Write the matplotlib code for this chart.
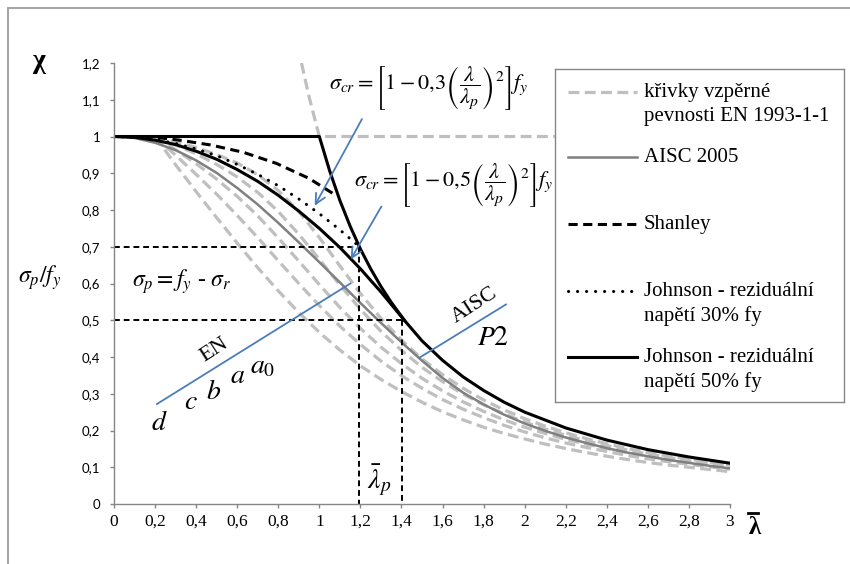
import matplotlib
matplotlib.use("Agg")
import matplotlib.pyplot as plt
from matplotlib.patches import Rectangle
from matplotlib.lines import Line2D

plt.rcParams['font.family'] = ['Liberation Serif', 'DejaVu Serif']
plt.rcParams['mathtext.fontset'] = 'stix'

# EN 1993-1-1 buckling curves (a0, a, b, c, d)
en_lam = [0.2, 0.3, 0.4, 0.5, 0.6, 0.7, 0.8, 0.9, 1.0, 1.1, 1.2, 1.3, 1.4, 1.5, 1.6,
          1.7, 1.8, 1.9, 2.0, 2.1, 2.2, 2.3, 2.4, 2.5, 2.6, 2.7, 2.8, 2.9, 3.0]
en_a0 = [1.000, 0.986, 0.970, 0.951, 0.928, 0.896, 0.853, 0.796, 0.725, 0.648, 0.573, 0.505,
         0.446, 0.395, 0.352, 0.315, 0.283, 0.256, 0.232, 0.212, 0.194, 0.178, 0.164, 0.151,
         0.140, 0.130, 0.122, 0.114, 0.106]
en_a = [1.000, 0.977, 0.953, 0.924, 0.890, 0.848, 0.796, 0.734, 0.666, 0.596, 0.530, 0.470,
        0.418, 0.372, 0.333, 0.299, 0.270, 0.245, 0.223, 0.204, 0.187, 0.172, 0.159, 0.147,
        0.136, 0.127, 0.118, 0.111, 0.104]
en_b = [1.000, 0.964, 0.926, 0.884, 0.837, 0.784, 0.724, 0.661, 0.597, 0.535, 0.478, 0.427,
        0.382, 0.342, 0.308, 0.278, 0.252, 0.229, 0.209, 0.192, 0.176, 0.163, 0.151, 0.140,
        0.130, 0.121, 0.113, 0.106, 0.099]
en_c = [1.000, 0.949, 0.897, 0.843, 0.785, 0.725, 0.662, 0.600, 0.540, 0.484, 0.434, 0.389,
        0.349, 0.315, 0.284, 0.258, 0.235, 0.214, 0.196, 0.180, 0.166, 0.154, 0.143, 0.132,
        0.123, 0.115, 0.108, 0.101, 0.095]
en_d = [1.000, 0.923, 0.850, 0.779, 0.710, 0.643, 0.580, 0.521, 0.467, 0.419, 0.376, 0.339,
        0.306, 0.277, 0.251, 0.229, 0.209, 0.192, 0.177, 0.163, 0.151, 0.140, 0.130, 0.121,
        0.113, 0.106, 0.100, 0.094, 0.088]

# Euler cut-off drawn with the EN curves (grey dashed)
en_euler_lam = [0.913, 0.95, 1.0, 3.0]
en_euler_chi = [1.2, 1.108, 1.0, 1.0]

# AISC 2005
aisc_lam = [0.0, 0.1, 0.2, 0.3, 0.4, 0.5, 0.6, 0.7, 0.8, 0.9, 1.0, 1.1, 1.2, 1.3, 1.4, 1.5,
            1.6, 1.7, 1.8, 1.9, 2.0, 2.1, 2.2, 2.3, 2.4, 2.5, 2.6, 2.7, 2.8, 2.9, 3.0]
aisc_chi = [1.000, 0.996, 0.983, 0.963, 0.935, 0.901, 0.860, 0.815, 0.765, 0.712, 0.658, 0.603,
            0.547, 0.493, 0.440, 0.390, 0.343, 0.303, 0.271, 0.243, 0.219, 0.199, 0.181, 0.166,
            0.152, 0.140, 0.130, 0.120, 0.112, 0.104, 0.097]

# Shanley
shanley_lam = [0.0, 0.2, 0.32, 0.47, 0.63, 0.79, 0.95, 1.08]
shanley_chi = [1.0, 0.998, 0.99, 0.977, 0.957, 0.927, 0.886, 0.84]

# Johnson, residual stress 30% fy
j30_lam = [0.0, 0.1, 0.2, 0.3, 0.4, 0.5, 0.6, 0.7, 0.8, 0.9, 1.0, 1.1, 1.195]
j30_chi = [1.000, 0.998, 0.992, 0.981, 0.966, 0.948, 0.924, 0.897, 0.866, 0.830, 0.790, 0.746, 0.700]

# Johnson, residual stress 50% fy (then Euler)
j50_lam = [0.0, 0.1, 0.2, 0.3, 0.4, 0.5, 0.6, 0.7, 0.8, 0.9, 1.0, 1.1, 1.2, 1.3, 1.414,
           1.5, 1.6, 1.7, 1.8, 1.9, 2.0, 2.2, 2.4, 2.6, 2.8, 3.0]
j50_chi = [1.000, 0.998, 0.990, 0.978, 0.960, 0.938, 0.910, 0.878, 0.840, 0.797, 0.750, 0.698,
           0.640, 0.577, 0.500, 0.444, 0.391, 0.346, 0.309, 0.277, 0.250, 0.207, 0.174, 0.148,
           0.128, 0.111]

# Euler with plateau (black)
euler_lam = [0.0, 1.0, 1.05, 1.1, 1.15, 1.2, 1.25, 1.3, 1.35, 1.414]
euler_chi = [1.0, 1.0, 0.907, 0.826, 0.756, 0.694, 0.640, 0.592, 0.549, 0.500]

# lambda_p reference lines
lam_p = [1.195, 1.405]
chi_p = [0.7, 0.5]

y_ticks = [0, 0.1, 0.2, 0.3, 0.4, 0.5, 0.6, 0.7, 0.8, 0.9, 1.0, 1.1, 1.2]
y_labels = ['0', '0,1', '0,2', '0,3', '0,4', '0,5', '0,6', '0,7', '0,8', '0,9', '1', '1,1', '1,2']
x_ticks = [0, 0.2, 0.4, 0.6, 0.8, 1.0, 1.2, 1.4, 1.6, 1.8, 2.0, 2.2, 2.4, 2.6, 2.8, 3.0]
x_labels = ['0', '0,2', '0,4', '0,6', '0,8', '1', '1,2', '1,4', '1,6', '1,8', '2', '2,2',
            '2,4', '2,6', '2,8', '3']

W, H = 850, 564
fig = plt.figure(figsize=(W / 100, H / 100), dpi=100)
ax = fig.add_axes([114 / W, 1 - 504 / H, 616 / W, 441 / H])

light = '#BFBFBF'
mid = '#808080'
blue = '#4A7EBB'
en_style = dict(color=light, lw=2.3, ls=(0, (3.4, 1.7)))
aisc_style = dict(color=mid, lw=1.8, ls='-')
sh_style = dict(color='black', lw=2.2, ls=(0, (3.0, 1.8)))
j30_style = dict(color='black', lw=2.2, ls=(0, (0.05, 2.9)), dash_capstyle='round')
j50_style = dict(color='black', lw=2.2, ls='-')

for vals in [en_d, en_c, en_b, en_a, en_a0]:
    ax.plot(en_lam, vals, **en_style)
ax.plot(en_euler_lam, en_euler_chi, **en_style)
ax.plot(aisc_lam, aisc_chi, **aisc_style)
ax.plot(shanley_lam, shanley_chi, **sh_style)
ax.plot(j30_lam, j30_chi, **j30_style)
ax.plot(j50_lam, j50_chi, **j50_style)
ax.plot(euler_lam, euler_chi, **j50_style)

# lambda_p guide lines
for lp, cp in zip(lam_p, chi_p):
    ax.plot([0, lp], [cp, cp], color='black', lw=1.4, ls=(0, (3, 2)))
    ax.plot([lp, lp], [cp, 0], color='black', lw=1.4, ls=(0, (3, 2)))

ax.set_xlim(0, 3)
ax.set_ylim(0, 1.2)
ax.set_xticks(x_ticks)
ax.set_xticklabels(x_labels, fontsize=12.5)
ax.set_yticks(y_ticks)
ax.set_yticklabels(y_labels, fontsize=9.5, family=['Lato', 'DejaVu Sans'])
ax.tick_params(axis='both', direction='out', length=3, color='#868686', width=1)
ax.tick_params(axis='y', pad=7)
ax.tick_params(axis='x', pad=4)
for s in ['top', 'right']:
    ax.spines[s].set_visible(False)
for s in ['left', 'bottom']:
    ax.spines[s].set_color('#868686')
    ax.spines[s].set_linewidth(1)

# annotations
ax.text(1.045, 1.132, r'$\sigma_{cr}=\left[1-0{,}3\left(\dfrac{\lambda}{\lambda_p}\right)^{2}\right]f_y$',
        fontsize=16, ha='left', va='center')
ax.text(1.168, 0.868, r'$\sigma_{cr}=\left[1-0{,}5\left(\dfrac{\lambda}{\lambda_p}\right)^{2}\right]f_y$',
        fontsize=16, ha='left', va='center')
ax.annotate('', xy=(0.971, 0.805), xytext=(1.214, 1.054),
            arrowprops=dict(arrowstyle='->', color=blue, lw=1.3, mutation_scale=18))
ax.annotate('', xy=(1.146, 0.659), xytext=(1.309, 0.816),
            arrowprops=dict(arrowstyle='->', color=blue, lw=1.3, mutation_scale=18))

ax.text(0.088, 0.604, r'$\sigma_p = f_y$ - $\sigma_r$', fontsize=17, ha='left', va='center')
ax.plot([0.209, 1.151], [0.272, 0.60], color=blue, lw=1.3)
ax.text(0.49, 0.419, 'EN', fontsize=16, rotation=33, ha='center', va='center')
for lbl, lx, ly in [('d', 0.222, 0.22), ('c', 0.374, 0.275), ('b', 0.486, 0.303),
                    ('a', 0.602, 0.348), ('a_0', 0.723, 0.372)]:
    ax.text(lx, ly, '$' + lbl + '$', fontsize=20, ha='center', va='center')
ax.plot([1.487, 1.909], [0.398, 0.543], color=blue, lw=1.3)
ax.text(1.758, 0.541, 'AISC', fontsize=16, rotation=33, ha='center', va='center')
ax.text(1.848, 0.451, '$P2$', fontsize=20, ha='center', va='center')
ax.text(1.293, 0.065, r'$\bar{\lambda}_p$', fontsize=20, ha='center', va='center')

# axis titles
fig.text(38 / W, 1 - 62 / H, 'χ', fontsize=20, fontweight='bold', ha='center', va='center')
fig.text(40 / W, 1 - 278 / H, r'$\sigma_p/f_y$', fontsize=17, ha='center', va='center')
fig.text(755 / W, 1 - 528 / H, 'λ', fontsize=18, fontweight='bold', ha='center', va='center')
fig.add_artist(Line2D([748 / W, 758 / W], [1 - 513 / H, 1 - 513 / H], color='black', lw=2))

# legend drawn in its own box
lg = fig.add_axes([555 / W, 1 - 402 / H, 289 / W, 333 / H])
lg.set_xlim(555, 844)
lg.set_ylim(402, 69)
lg.set_xticks([])
lg.set_yticks([])
for s in lg.spines.values():
    s.set_color('#888888')
    s.set_linewidth(1)
entries = [(en_style, 92, ['křivky vzpěrné', 'pevnosti EN 1993-1-1']),
           (aisc_style, 157, ['AISC 2005']),
           (sh_style, 224, ['Shanley']),
           (j30_style, 291, ['Johnson - reziduální', 'napětí 30% fy']),
           (j50_style, 357, ['Johnson - reziduální', 'napětí 50% fy'])]
for style, ly, lines in entries:
    lg.plot([568, 637], [ly, ly], **style)
    for i, t in enumerate(lines):
        lg.text(644, ly + 1 + i * 24, t, fontsize=15, ha='left', va='center')

# outer frame (only left/top edges inside the picture)
fig.add_artist(Rectangle((8 / W, -0.1), 1.2, 1.1 - 8 / H, transform=fig.transFigure,
                         fill=False, edgecolor='#A6A6A6', lw=1.5))

fig.savefig('out.png', dpi=100)
